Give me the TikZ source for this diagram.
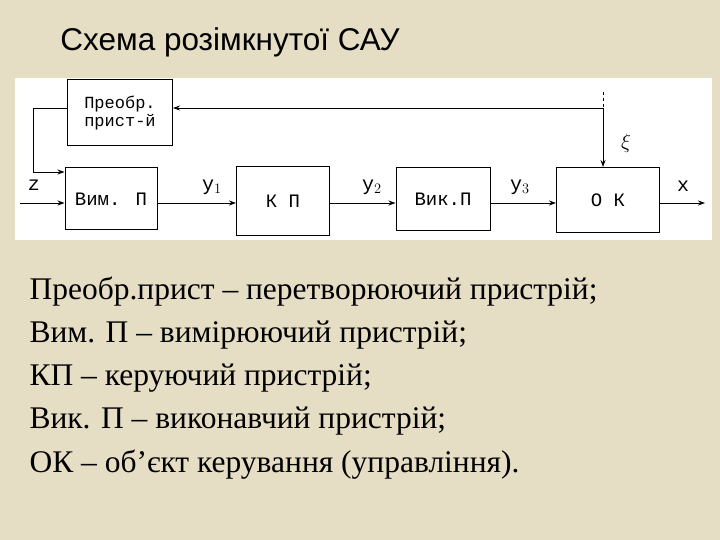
\documentclass[tikz,border=0pt]{standalone}
\usepackage{fontspec}
\setmainfont{Liberation Serif}
\newfontfamily\titlefont{Liberation Sans}
\newfontfamily\monofont{Liberation Mono}
\usetikzlibrary{arrows.meta}
\definecolor{bg}{RGB}{230,222,196}
\begin{document}
\begin{tikzpicture}[x=1pt,y=-1pt,
  blk/.style={draw,line width=1pt,minimum width=#1,font=\monofont\fontsize{19}{21}\selectfont,inner sep=0pt},
  lbl/.style={font=\monofont\fontsize{20}{22}\selectfont},
  ar/.style={line width=0.9pt,-{Stealth[length=7pt,width=5pt]}},
  ln/.style={line width=0.9pt},
  leg/.style={anchor=west,font=\fontsize{31.5}{34}\selectfont}]
\fill[bg] (0,0) rectangle (720,540);
\useasboundingbox (0,0) rectangle (720,540);
\fill[white] (15,78) rectangle (712,240);
\node[font=\titlefont\fontsize{31.5}{34}\selectfont] (title) at (230,42) {Схема розімкнутої САУ};
\node[blk=105pt,minimum height=66pt,align=left,font=\monofont\fontsize{17}{18}\selectfont] (pr) at (120,113) {Преобр.\\прист-й};
\node[blk=92pt,minimum height=62pt] (vim) at (111,199) {Вим. П};
\node[blk=93pt,minimum height=68pt] (kp) at (283,201) {К П};
\node[blk=94pt,minimum height=63pt] (vik) at (443,199) {Вик.П};
\node[blk=103pt,minimum height=65pt] (ok) at (608,200) {О К};
\coordinate (top) at (603,92);
\coordinate (fb) at (603,108);
\coordinate (lc) at (33,108);
\coordinate (ld) at (33,172);
\coordinate (in) at (20,203);
\coordinate (out) at (705,203);
\draw[ln,dashed] (top) -- (fb);
\draw[ar] (fb) -- (fb -| pr.east);
\draw[ar] (fb) -- (fb |- ok.north);
\draw[ln] (pr.west |- lc) -- (lc) -- (ld);
\draw[ar] (ld) -- (ld -| vim.west);
\draw[ar] (in) -- (in -| vim.west);
\draw[ar] (vim.east |- in) -- (in -| kp.west);
\draw[ar] (kp.east |- in) -- (in -| vik.west);
\draw[ar] (vik.east |- in) -- (in -| ok.west);
\draw[ar] (ok.east |- in) -- (out);
\node[lbl] (z) at (34,185) {z};
\node[lbl] (y1) at (212,187) {y$_1$};
\node[lbl] (y2) at (372,187) {y$_2$};
\node[lbl] (y3) at (520,187) {y$_3$};
\node[lbl] (x) at (683,186) {x};
\node[font=\fontsize{21}{22}\selectfont] (xi) at (626,143) {$\xi$};
\node[leg] (l1) at (26,292) {Преобр.прист – перетворюючий пристрій;};
\node[leg] (l2) at (26,335) {Вим. П – вимірюючий пристрій;};
\node[leg] (l3) at (26,378) {КП – керуючий пристрій;};
\node[leg] (l4) at (26,421) {Вик. П – виконавчий пристрій;};
\node[leg] (l5) at (26,465) {ОК – об’єкт керування (управління).};
\end{tikzpicture}
\end{document}
